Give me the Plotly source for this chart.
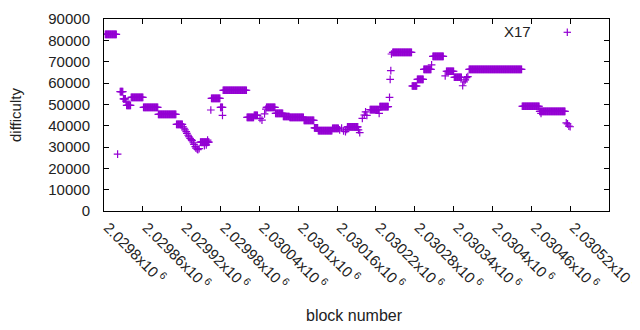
import plotly.graph_objects as go

# Runs of (roughly) constant difficulty
run_start = [2029802, 2029825, 2029830, 2029835, 2029842, 2029861, 2029884, 2029912,
             2029949, 2029966, 2029980, 2029984, 2030021, 2030032, 2030051, 2030065,
             2030077, 2030087, 2030109, 2030125, 2030131, 2030153, 2030176, 2030211,
             2030226, 2030246, 2030276, 2030284, 2030294, 2030308, 2030329, 2030341,
             2030364, 2030446, 2030473]
run_end = [2029819, 2029829, 2029833, 2029841, 2029860, 2029883, 2029911, 2029921,
           2029962, 2029979, 2029983, 2030020, 2030031, 2030037, 2030064, 2030076,
           2030086, 2030108, 2030124, 2030130, 2030152, 2030162, 2030192, 2030224,
           2030239, 2030275, 2030283, 2030293, 2030305, 2030324, 2030340, 2030352,
           2030445, 2030472, 2030512]
run_difficulty = [82800, 56000, 52600, 49500, 53300, 48600, 45300, 40600,
                  32300, 52800, 48600, 56600, 43900, 44800, 48600, 45800,
                  44300, 43900, 42500, 39000, 37700, 38700, 39400, 47500,
                  48900, 74400, 58600, 61700, 66400, 72500, 65500, 62700,
                  66400, 49100, 46700]

# Individual blocks
single_block = [2029821, 2029834,
                2029922, 2029924, 2029925, 2029927, 2029928, 2029930, 2029931, 2029933,
                2029935, 2029936, 2029938, 2029939, 2029941, 2029942, 2029944, 2029945,
                2029947, 2029955, 2029958, 2029960, 2029965, 2029983,
                2030041, 2030044, 2030048, 2030050,
                2030164, 2030167, 2030170, 2030173, 2030175, 2030193, 2030195,
                2030199, 2030202, 2030204, 2030206, 2030225,
                2030241, 2030242, 2030243, 2030244, 2030306, 2030327,
                2030354, 2030356, 2030358, 2030360, 2030362, 2030475,
                2030514, 2030516, 2030518, 2030520]
single_difficulty = [26700, 51500,
                     39500, 38800, 38000, 37200, 36400, 35500, 34800, 34000,
                     33500, 33000, 32000, 31200, 30200, 29500, 29000, 28800,
                     29200, 30600, 31000, 33200, 47350, 44800,
                     43400, 42600, 45500, 47800,
                     38000, 38900, 37500, 37200, 38200, 38000, 36700,
                     43450, 45000, 46500, 44800, 45800,
                     53300, 61700, 65800, 73600, 68500, 63300,
                     58700, 60500, 61500, 62500, 63000, 45800,
                     41300, 40800, 39800, 39500]

x_tickvals = [2029800, 2029860, 2029920, 2029980, 2030040, 2030100, 2030160,
              2030220, 2030280, 2030340, 2030400, 2030460, 2030520, 2030580]
x_ticktext = ["2.0298x10\u2009<sup>6</sup>", "2.02986x10\u2009<sup>6</sup>",
              "2.02992x10\u2009<sup>6</sup>", "2.02998x10\u2009<sup>6</sup>",
              "2.03004x10\u2009<sup>6</sup>", "2.0301x10\u2009<sup>6</sup>",
              "2.03016x10\u2009<sup>6</sup>", "2.03022x10\u2009<sup>6</sup>",
              "2.03028x10\u2009<sup>6</sup>", "2.03034x10\u2009<sup>6</sup>",
              "2.0304x10\u2009<sup>6</sup>", "2.03046x10\u2009<sup>6</sup>",
              "2.03052x10\u2009<sup>6</sup>", "2.03058x10\u2009<sup>6</sup>"]
y_tickvals = [0, 10000, 20000, 30000, 40000, 50000, 60000, 70000, 80000, 90000]

blocks, diffs = [], []
for s, e, v in zip(run_start, run_end, run_difficulty):
    for b in range(s, e + 1):
        blocks.append(b)
        diffs.append(v)
blocks += single_block
diffs += single_difficulty

COLOR = "#9400D3"
FONT = "Liberation Sans, Arial, sans-serif"

# page has an 8px body margin; plot area should land at x 104..609, y 19..211 in the window
L, T = 96, 11
PW, PH = 505, 192
R = 640 - L - PW
B = 330 - T - PH

def px_x(px):  # window px -> paper fraction
    return (px - 104) / PW

def px_y(py):
    return (211 - py) / PH

fig = go.Figure()
fig.add_trace(go.Scatter(
    x=blocks, y=diffs, mode="markers", name="X17", showlegend=False,
    marker=dict(symbol="cross-thin", size=5.5, line=dict(color=COLOR, width=1.2), color=COLOR),
))

axis_common = dict(showline=True, linecolor="black", linewidth=1, mirror="ticks",
                   ticks="inside", ticklen=5, tickcolor="black", tickwidth=1,
                   showgrid=False, zeroline=False, automargin=False,
                   tickfont=dict(family=FONT, size=15, color="#222"))

fig.update_layout(
    width=640, height=330,
    margin=dict(l=L, r=R, t=T, b=B),
    paper_bgcolor="white", plot_bgcolor="white",
    font=dict(family=FONT, size=15, color="#222"),
    xaxis=dict(range=[2029800, 2030580], tickvals=x_tickvals, ticktext=x_ticktext,
               tickangle=45, ticklabelstandoff=1, ticklabelshift=4, **axis_common),
    yaxis=dict(range=[0, 90000], tickvals=y_tickvals, tickformat="d",
               ticklabelstandoff=10, **axis_common),
    annotations=[
        dict(text="difficulty", xref="paper", yref="paper", x=px_x(15), y=0.5,
             textangle=-90, showarrow=False, xanchor="center", yanchor="middle",
             font=dict(family=FONT, size=15, color="#222")),
        dict(text="block number", xref="paper", yref="paper", x=px_x(354),
             y=px_y(315), showarrow=False, xanchor="center", yanchor="middle",
             font=dict(family=FONT, size=16, color="#222")),
        dict(text="X17", xref="paper", yref="paper", x=px_x(533),
             y=px_y(31.5), showarrow=False, xanchor="right", yanchor="middle",
             font=dict(family=FONT, size=15, color="#222")),
    ],
    shapes=[
        dict(type="line", xref="paper", yref="paper", xsizemode="pixel", ysizemode="pixel",
             xanchor=px_x(567.3), yanchor=px_y(32.3),
             x0=-3.7, x1=3.7, y0=0, y1=0, line=dict(color=COLOR, width=1.2)),
        dict(type="line", xref="paper", yref="paper", xsizemode="pixel", ysizemode="pixel",
             xanchor=px_x(567.3), yanchor=px_y(32.3),
             x0=0, x1=0, y0=-3.7, y1=3.7, line=dict(color=COLOR, width=1.2)),
    ],
)

fig.write_html("out.html")
